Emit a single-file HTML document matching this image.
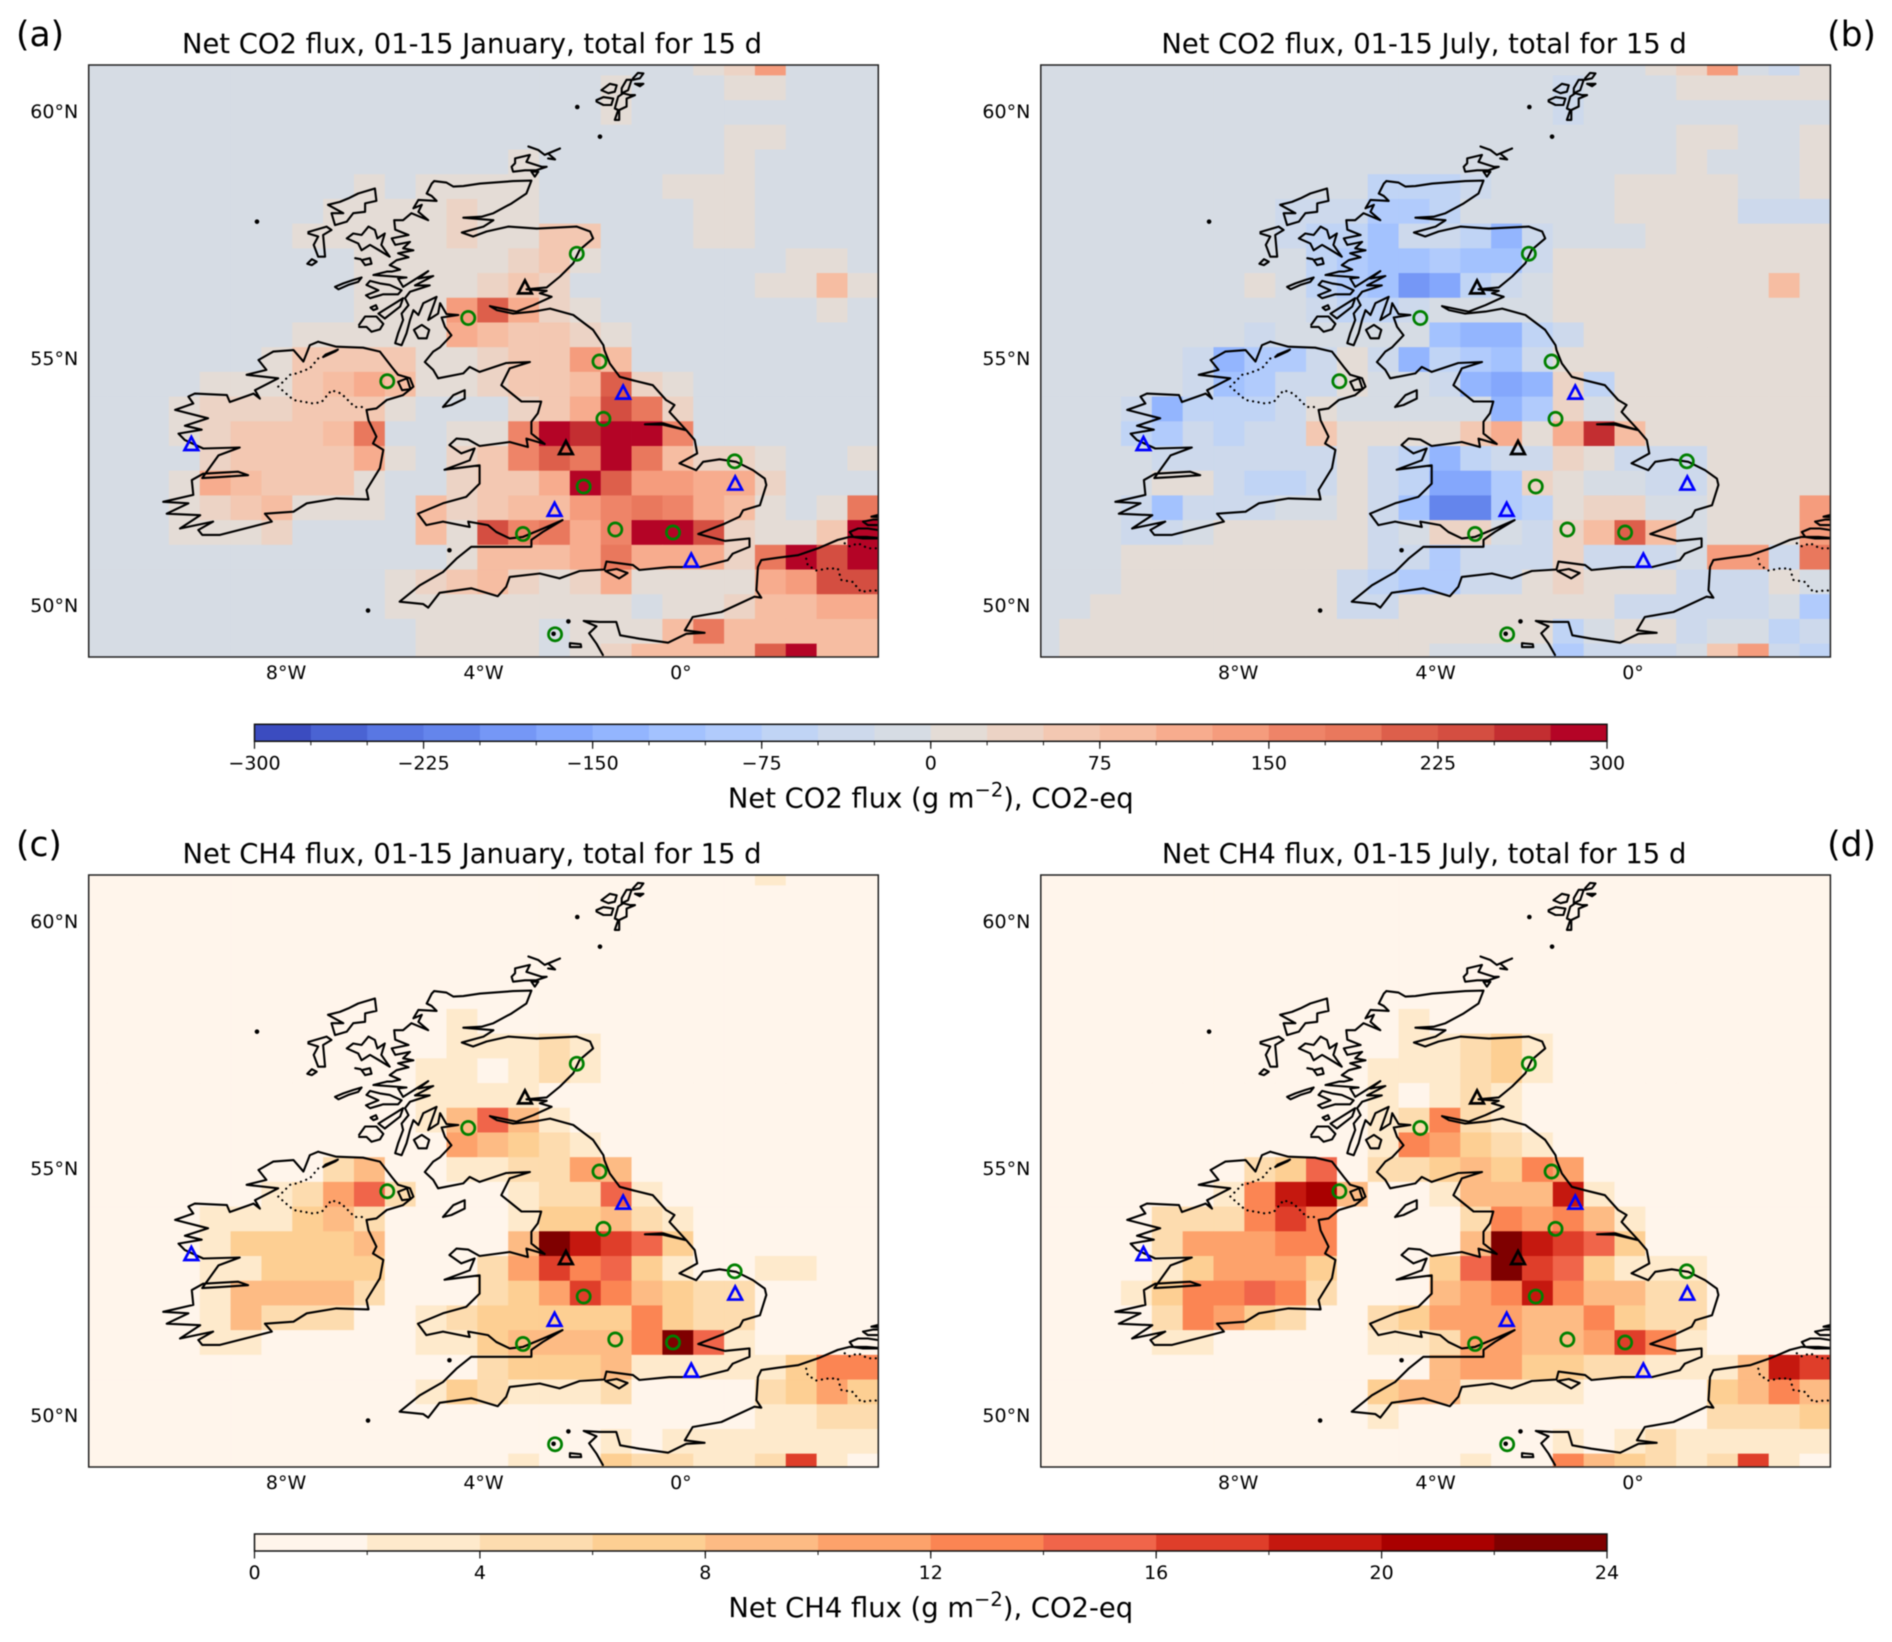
<!DOCTYPE html>
<html lang="en">
<head>
<meta charset="utf-8">
<title>Net CO2 and CH4 flux maps</title>
<style>
html,body{margin:0;padding:0;background:#fff}
svg{display:block;font-family:"DejaVu Sans","Liberation Sans",sans-serif;filter:blur(0.4px)}
</style>
</head>
<body>
<svg id="figure" xmlns="http://www.w3.org/2000/svg" width="1892" height="1642" viewBox="0 0 1892 1642"></svg>
<script>
// ---------- flux values (g m-2, CO2-eq), one row per 0.5 deg latitude, one column per 0.625 deg longitude ----------
const co2January = [
[-12,-12,-12,-12,-12,-12,-12,-12,-12,-12,-12,-12,-12,-12,-12,-12,-12,-12,-12,-12,12,37,137,-12,-12,-12],
[-12,-12,-12,-12,-12,-12,-12,-12,-12,-12,-12,-12,-12,-12,-12,-12,-12,12,-12,-12,-12,12,12,-12,-12,-12],
[-12,-12,-12,-12,-12,-12,-12,-12,-12,-12,-12,-12,-12,-12,-12,-12,-12,12,-12,-12,-12,-12,-12,-12,-12,-12],
[-12,-12,-12,-12,-12,-12,-12,-12,-12,-12,-12,-12,-12,-12,-12,-12,-12,-12,-12,-12,-12,12,12,-12,-12,-12],
[-12,-12,-12,-12,-12,-12,-12,-12,-12,-12,-12,-12,-12,-12,12,-12,-12,-12,-12,-12,-12,12,-12,-12,-12,-12],
[-12,-12,-12,-12,-12,-12,-12,-12,-12,12,-12,12,12,12,12,-12,-12,-12,-12,12,12,12,-12,-12,-12,-12],
[-12,-12,-12,-12,-12,-12,-12,-12,12,12,12,12,37,12,12,-12,-12,-12,-12,-12,12,12,-12,-12,-12,-12],
[-12,-12,-12,-12,-12,-12,-12,12,12,12,12,12,37,12,12,62,62,-12,-12,-12,12,12,-12,-12,-12,-12],
[-12,-12,-12,-12,-12,-12,-12,-12,-12,12,12,12,12,12,37,62,12,-12,-12,-12,-12,-12,-12,12,12,-12],
[-12,-12,-12,-12,-12,-12,-12,-12,-12,12,12,12,12,37,62,37,-12,-12,-12,-12,-12,-12,12,12,87,12],
[-12,-12,-12,-12,-12,-12,-12,-12,-12,12,12,12,137,212,112,37,12,-12,-12,-12,-12,-12,-12,-12,12,-12],
[-12,-12,-12,-12,-12,-12,-12,12,12,12,12,12,112,87,62,62,37,12,-12,-12,-12,-12,-12,-12,-12,-12],
[-12,-12,-12,-12,-12,-12,12,62,62,62,62,12,12,37,62,62,137,87,-12,-12,-12,-12,-12,-12,-12,-12],
[-12,-12,-12,-12,12,12,12,62,87,112,87,12,12,37,62,62,87,212,37,12,-12,-12,-12,-12,-12,-12],
[-12,-12,-12,12,37,37,37,62,62,62,12,-12,-12,-12,37,62,112,237,187,37,-12,-12,-12,-12,-12,-12],
[-12,-12,-12,12,37,62,62,62,87,187,-12,-12,12,12,162,287,262,287,287,162,-12,-12,-12,-12,-12,-12],
[-12,-12,-12,-12,37,62,62,62,62,112,12,-12,37,62,162,212,187,287,187,87,37,37,12,-12,-12,12],
[-12,-12,-12,12,112,87,62,62,62,12,-12,-12,37,62,62,112,287,212,137,137,112,112,37,-12,-12,-12],
[-12,-12,-12,12,37,62,87,12,12,12,-12,87,37,62,87,87,137,162,187,162,112,87,12,-12,12,187],
[-12,-12,-12,12,12,12,37,-12,-12,-12,-12,87,12,237,162,187,112,162,287,287,237,37,12,12,62,287],
[-12,-12,-12,-12,-12,-12,-12,-12,-12,-12,-12,-12,12,87,87,87,112,187,112,112,112,37,187,287,237,287],
[-12,-12,-12,-12,-12,-12,-12,-12,-12,-12,12,37,62,87,37,12,37,112,12,12,12,12,112,137,237,237],
[-12,-12,-12,-12,-12,-12,-12,-12,-12,-12,12,12,12,12,12,12,12,12,-12,12,12,37,87,87,112,112],
[-12,-12,-12,-12,-12,-12,-12,-12,-12,-12,-12,12,12,12,12,-12,12,12,12,87,187,87,87,87,87,87],
[-12,-12,-12,-12,-12,-12,-12,-12,-12,-12,-12,12,12,12,12,-12,12,37,87,87,87,87,212,287,87,87]
];
const co2July = [
[-12,-12,-12,-12,-12,-12,-12,-12,-12,-12,-12,-12,-12,-12,-12,-12,-12,-12,-12,-12,12,37,137,-12,-37,12],
[-12,-12,-12,-12,-12,-12,-12,-12,-12,-12,-12,-12,-12,-12,-12,-12,-12,-37,-12,-12,-12,12,12,12,12,12],
[-12,-12,-12,-12,-12,-12,-12,-12,-12,-12,-12,-12,-12,-12,-12,-12,-12,-37,-12,-12,-12,-12,-12,-12,-12,-12],
[-12,-12,-12,-12,-12,-12,-12,-12,-12,-12,-12,-12,-12,-12,-12,-12,-12,-12,-12,-12,-12,12,12,-12,-12,12],
[-12,-12,-12,-12,-12,-12,-12,-12,-12,-12,-12,-12,-12,-12,-12,-12,-12,-12,-12,-12,-12,12,-12,-12,-12,12],
[-12,-12,-12,-12,-12,-12,-12,-12,-12,-12,-12,-62,-62,-62,-37,-12,-12,-12,-12,12,12,12,12,-12,-12,12],
[-12,-12,-12,-12,-12,-12,-12,-12,-37,-37,-37,-87,-87,-62,-12,-12,-12,-12,-12,12,12,12,12,-37,-37,-37],
[-12,-12,-12,-12,-12,-12,-12,-12,-37,-62,-62,-112,-37,-37,-62,-137,-37,-12,-12,-12,12,12,12,12,12,12],
[-12,-12,-12,-12,-12,-12,-12,-12,-12,-62,-87,-112,-112,-87,-112,-112,-37,12,12,12,12,12,12,12,12,12],
[-12,-12,-12,-12,-12,-12,-12,12,-12,-62,-87,-112,-187,-162,-62,-37,-12,12,12,12,12,12,12,12,87,12],
[-12,-12,-12,-12,-12,-12,-12,-12,-12,-37,-62,-62,-37,-12,-12,-12,-12,12,12,12,12,12,12,12,12,12],
[-12,-12,-12,-12,-12,-12,-12,-37,-12,-12,-12,-12,-12,-112,-137,-137,-62,-37,12,12,12,12,12,12,12,12],
[-12,-12,-12,-12,-12,-37,-137,-87,-87,-37,12,-37,-137,-62,-87,-112,-37,12,12,12,12,12,12,12,12,12],
[-12,-12,-12,-12,-12,-37,-112,-87,-37,-37,12,-12,-12,-37,-137,-162,-137,37,-62,12,12,12,12,12,12,12],
[-12,-12,-12,-37,-137,-62,-62,-62,-37,12,-12,-12,-12,-12,-12,-137,-87,37,-12,12,12,12,12,12,12,12],
[-12,-12,-12,-62,-87,-37,-62,-37,-37,62,12,12,12,12,62,112,12,112,262,87,12,12,12,12,12,12],
[-12,-12,-12,-12,-37,-37,-37,-37,-37,-37,12,-37,-62,-137,-62,-37,-37,37,12,-37,-37,-37,12,12,12,12],
[-12,-12,-12,-12,12,12,-37,-62,-62,-37,12,-37,-62,-162,-162,-87,37,12,-12,-12,-37,-37,12,12,12,12],
[-12,-12,-12,-37,-112,-37,-37,-37,-12,-12,12,-37,-112,-212,-212,-87,-62,12,37,37,-12,-12,12,12,12,137],
[-12,-12,-12,-37,-37,-12,12,12,12,12,12,-37,-12,37,37,-12,-37,37,87,212,87,-12,12,12,12,137],
[-12,-12,-12,12,12,12,12,12,12,12,12,-37,-37,-87,-37,-37,-37,37,-37,-37,-37,-12,137,137,-37,187],
[-12,-12,-12,12,12,12,12,12,12,12,-37,-62,-87,-87,-37,-37,12,37,12,12,12,-37,-37,-37,12,-12],
[-12,-12,12,12,12,12,12,12,12,12,-37,-37,12,12,12,12,12,12,12,-37,-37,-37,-37,-37,-12,-87],
[-12,12,12,12,12,12,12,12,12,12,12,12,12,12,12,12,12,-62,-12,12,12,-37,-12,-12,-62,-37],
[-12,12,12,12,12,12,12,12,12,12,12,12,12,-12,-12,-12,-12,-87,-37,-37,-37,-12,62,137,-37,-62]
];
const ch4January = [
[1,1,1,1,1,1,1,1,1,1,1,1,1,1,1,1,1,1,1,1,1,1,3,1,1,1],
[1,1,1,1,1,1,1,1,1,1,1,1,1,1,1,1,1,1,1,1,1,1,1,1,1,1],
[1,1,1,1,1,1,1,1,1,1,1,1,1,1,1,1,1,1,1,1,1,1,1,1,1,1],
[1,1,1,1,1,1,1,1,1,1,1,1,1,1,1,1,1,1,1,1,1,1,1,1,1,1],
[1,1,1,1,1,1,1,1,1,1,1,1,1,1,1,1,1,1,1,1,1,1,1,1,1,1],
[1,1,1,1,1,1,1,1,1,1,1,1,1,1,1,1,1,1,1,1,1,1,1,1,1,1],
[1,1,1,1,1,1,1,1,1,1,1,1,3,1,1,1,1,1,1,1,1,1,1,1,1,1],
[1,1,1,1,1,1,1,1,1,1,1,1,3,3,3,5,3,1,1,1,1,1,1,1,1,1],
[1,1,1,1,1,1,1,1,1,1,1,3,3,1,3,5,3,1,1,1,1,1,1,1,1,1],
[1,1,1,1,1,1,1,1,1,1,1,3,3,3,3,1,1,1,1,1,1,1,1,1,1,1],
[1,1,1,1,1,1,1,1,1,1,1,3,9,15,9,3,1,1,1,1,1,1,1,1,1,1],
[1,1,1,1,1,1,1,1,1,1,1,1,11,9,7,5,3,1,1,1,1,1,1,1,1,1],
[1,1,1,1,1,1,1,1,5,9,1,1,3,3,5,5,11,9,1,1,1,1,1,1,1,1],
[1,1,1,1,1,1,3,5,11,15,5,1,1,1,3,5,5,15,3,1,1,1,1,1,1,1],
[1,1,1,1,3,3,3,7,9,5,1,1,1,1,3,7,7,9,5,3,1,1,1,1,1,1],
[1,1,1,1,3,7,7,7,7,9,1,1,1,1,9,23,19,17,15,7,1,1,1,1,1,1],
[1,1,1,1,3,3,7,7,7,7,1,1,1,5,11,17,13,15,7,3,1,1,3,3,1,1],
[1,1,1,1,3,9,9,9,9,5,1,1,1,5,7,11,17,13,9,7,5,5,1,1,1,1],
[1,1,1,1,3,9,5,5,5,1,1,3,5,7,7,7,7,7,13,7,5,5,1,1,1,1],
[1,1,1,1,3,3,1,1,1,1,1,3,3,7,9,9,9,9,13,23,15,3,1,1,1,1],
[1,1,1,1,1,1,1,1,1,1,1,1,1,5,7,7,7,9,3,3,3,3,3,7,13,13],
[1,1,1,1,1,1,1,1,1,1,1,3,7,5,3,3,3,5,1,1,1,1,5,7,11,7],
[1,1,1,1,1,1,1,1,1,1,1,1,1,1,1,1,1,1,1,1,1,1,3,3,5,5],
[1,1,1,1,1,1,1,1,1,1,1,1,1,1,1,1,1,3,1,3,3,3,3,3,3,3],
[1,1,1,1,1,1,1,1,1,1,1,1,1,1,3,1,1,7,5,5,3,3,5,17,3,1]
];
const ch4July = [
[1,1,1,1,1,1,1,1,1,1,1,1,1,1,1,1,1,1,1,1,1,1,1,1,1,1],
[1,1,1,1,1,1,1,1,1,1,1,1,1,1,1,1,1,1,1,1,1,1,1,1,1,1],
[1,1,1,1,1,1,1,1,1,1,1,1,1,1,1,1,1,1,1,1,1,1,1,1,1,1],
[1,1,1,1,1,1,1,1,1,1,1,1,1,1,1,1,1,1,1,1,1,1,1,1,1,1],
[1,1,1,1,1,1,1,1,1,1,1,1,1,1,1,1,1,1,1,1,1,1,1,1,1,1],
[1,1,1,1,1,1,1,1,1,1,1,1,1,1,1,1,1,1,1,1,1,1,1,1,1,1],
[1,1,1,1,1,1,1,1,1,1,1,1,3,1,1,1,1,1,1,1,1,1,1,1,1,1],
[1,1,1,1,1,1,1,1,1,1,1,1,3,3,5,7,3,1,1,1,1,1,1,1,1,1],
[1,1,1,1,1,1,1,1,1,1,1,3,3,3,5,7,3,1,1,1,1,1,1,1,1,1],
[1,1,1,1,1,1,1,1,1,1,1,3,1,3,5,3,1,1,1,1,1,1,1,1,1,1],
[1,1,1,1,1,1,1,1,1,1,1,3,5,13,5,3,1,1,1,1,1,1,1,1,1,1],
[1,1,1,1,1,1,1,1,1,1,1,3,13,11,7,5,3,1,1,1,1,1,1,1,1,1],
[1,1,1,1,1,1,1,5,7,15,1,5,5,7,9,7,13,11,1,1,1,1,1,1,1,1],
[1,1,1,1,1,1,3,13,19,21,9,1,1,3,9,9,9,19,3,1,1,1,1,1,1,1],
[1,1,1,1,5,5,5,13,17,13,1,1,1,1,5,13,11,13,9,3,1,1,1,1,1,1],
[1,1,1,1,5,11,11,11,13,13,1,1,1,1,9,23,19,17,15,7,1,1,1,1,1,1],
[1,1,1,1,3,7,11,11,11,7,1,1,1,7,15,23,17,15,7,3,3,3,1,1,1,1],
[1,1,1,3,7,13,13,15,13,5,1,1,1,9,11,13,19,13,9,9,5,5,1,1,1,1],
[1,1,1,1,5,13,11,7,5,1,1,5,7,11,11,11,9,9,13,7,5,5,1,1,1,1],
[1,1,1,1,3,3,1,1,1,1,1,3,3,5,11,11,9,9,11,17,13,3,1,1,1,1],
[1,1,1,1,1,1,1,1,1,1,1,1,1,9,11,11,7,7,5,5,3,3,3,9,19,17],
[1,1,1,1,1,1,1,1,1,1,1,7,9,9,3,3,3,3,1,1,1,1,7,9,13,9],
[1,1,1,1,1,1,1,1,1,1,1,3,1,1,1,1,1,1,1,1,1,1,5,5,5,7],
[1,1,1,1,1,1,1,1,1,1,1,1,1,1,1,1,1,3,1,3,5,3,3,3,3,3],
[1,1,1,1,1,1,1,1,1,1,1,1,1,1,3,1,1,13,9,7,5,3,5,17,3,1]
];

// ---------- observation sites [longitude, latitude] ----------
const circleSites = [[-2.11,57.14],[-4.31,55.84],[-1.65,54.96],[-5.95,54.56],[-1.57,53.80],[1.09,52.94],[-1.97,52.43],[-1.33,51.56],[-0.16,51.50],[-3.20,51.47],[-2.55,49.44]];
const blueTriangleSites = [[-1.17,54.33],[-9.92,53.29],[1.10,52.49],[-2.56,51.96],[0.21,50.93]];
const blackTriangleSites = [[-3.16,56.46],[-2.33,53.21]];

// ---------- axis and colour bar labels ----------
const lonTicks = [-8,-4,0];
const lonTickLabels = ["8°W","4°W","0°"];
const latTicks = [60,55,50];
const latTickLabels = ["60°N","55°N","50°N"];
const co2BarTicks = [-300,-225,-150,-75,0,75,150,225,300];
const co2BarTickLabels = ["−300","−225","−150","−75","0","75","150","225","300"];
const ch4BarTicks = [0,4,8,12,16,20,24];
const ch4BarTickLabels = ["0","4","8","12","16","20","24"];

// ---------- colour levels ----------
const coolwarmLevels = ["#3b4cc0","#4a63d3","#5977e3","#6485ec","#7597f6","#84a7fc","#93b5fe","#a3c2fe","#b1cbfc","#c0d4f5","#cdd9ec","#d6dce4","#e4dcd6","#ecd3c5","#f3c8b2","#f6bda2","#f7ac8e","#f59c7d","#ee8468","#e9785d","#dd5f4b","#d44e41","#c32e31","#b40426"];
const orRdLevels = ["#fff5eb","#feeacc","#fddcaf","#fdcf93","#fdbb84","#fda26b","#fb8553","#f0654a","#df3e2a","#c5180f","#a90000","#7f0000"];

// ---------- coastlines [longitude, latitude] ----------
const coastGreatBritain = [[-5.0,58.61],[-4.75,58.58],[-4.61,58.50],[-4.41,58.51],[-4.07,58.56],[-3.40,58.61],[-3.03,58.62],[-3.13,58.36],[-3.43,58.16],[-3.80,57.96],[-4.04,57.89],[-4.41,57.87],[-3.80,57.82],[-4.00,57.69],[-4.44,57.57],[-4.21,57.49],[-3.94,57.59],[-3.50,57.69],[-2.92,57.65],[-2.11,57.69],[-1.84,57.59],[-1.78,57.45],[-2.05,57.22],[-2.18,56.95],[-2.45,56.68],[-2.72,56.46],[-3.13,56.42],[-2.72,56.39],[-2.86,56.34],[-2.62,56.27],[-2.99,56.10],[-3.33,55.97],[-3.87,56.08],[-3.73,56.00],[-3.40,55.93],[-2.99,55.97],[-2.65,56.03],[-2.18,55.90],[-1.78,55.60],[-1.57,55.29],[-1.55,55.19],[-1.44,54.92],[-1.24,54.65],[-0.97,54.58],[-0.57,54.48],[-0.30,54.18],[-0.13,54.08],[-0.23,53.94],[0.11,53.57],[-0.36,53.71],[-0.73,53.69],[-0.36,53.68],[0.11,53.57],[0.28,53.37],[0.33,53.10],[-0.03,52.90],[0.31,52.76],[0.45,52.93],[0.785,52.98],[1.12,52.93],[1.46,52.76],[1.70,52.59],[1.73,52.46],[1.60,52.05],[1.26,51.95],[1.19,51.82],[0.89,51.68],[0.35,51.47],[0.89,51.33],[1.39,51.38],[1.39,51.21],[1.05,51.07],[0.95,50.94],[0.38,50.80],[-0.23,50.80],[-0.84,50.74],[-0.97,50.84],[-1.51,50.91],[-1.55,50.75],[-2.05,50.72],[-2.46,50.57],[-2.86,50.67],[-3.47,50.60],[-3.54,50.40],[-3.71,50.21],[-4.25,50.37],[-4.89,50.28],[-5.12,49.98],[-5.22,50.05],[-5.70,50.10],[-5.29,50.43],[-4.82,50.70],[-4.55,50.97],[-4.25,51.21],[-3.67,51.21],[-3.03,51.21],[-3.03,51.35],[-2.80,51.51],[-2.40,51.75],[-2.79,51.58],[-3.20,51.41],[-3.47,51.38],[-3.74,51.51],[-3.91,51.65],[-4.08,51.68],[-4.31,51.72],[-4.28,51.61],[-4.82,51.72],[-5.16,51.65],[-5.33,51.88],[-4.82,52.09],[-4.35,52.22],[-4.08,52.49],[-4.08,52.86],[-4.79,52.77],[-4.28,52.96],[-4.18,53.20],[-4.45,53.10],[-4.69,53.27],[-4.55,53.40],[-4.31,53.38],[-4.08,53.25],[-3.47,53.33],[-3.10,53.23],[-3.13,53.40],[-2.76,53.29],[-3.03,53.50],[-3.03,53.74],[-2.90,53.91],[-2.83,54.15],[-3.23,54.15],[-3.64,54.48],[-3.47,54.82],[-3.06,54.95],[-3.54,54.93],[-4.08,54.75],[-4.28,54.85],[-4.41,54.72],[-4.92,54.62],[-5.02,54.79],[-5.19,54.95],[-5.02,55.16],[-4.88,55.25],[-4.65,55.49],[-4.78,55.66],[-4.85,55.85],[-4.51,55.90],[-4.75,55.92],[-4.88,56.14],[-4.92,55.93],[-5.12,55.80],[-4.95,56.27],[-5.22,56.14],[-5.32,55.90],[-5.42,56.0],[-5.49,55.80],[-5.56,55.53],[-5.66,55.29],[-5.79,55.33],[-5.73,55.53],[-5.63,55.80],[-5.66,55.93],[-5.52,56.10],[-5.59,56.24],[-5.49,56.37],[-5.09,56.50],[-5.39,56.50],[-5.02,56.69],[-5.32,56.64],[-5.12,56.79],[-5.63,56.47],[-5.73,56.64],[-5.56,56.66],[-6.23,56.71],[-5.96,56.78],[-5.86,56.78],[-5.69,56.82],[-5.90,56.91],[-5.76,57.01],[-5.52,57.07],[-5.73,57.15],[-5.42,57.21],[-5.63,57.25],[-5.49,57.38],[-5.79,57.32],[-5.86,57.45],[-5.52,57.52],[-5.79,57.63],[-5.81,57.82],[-5.63,57.82],[-5.46,57.96],[-5.12,57.82],[-5.32,57.99],[-5.25,58.13],[-5.42,58.06],[-5.32,58.23],[-4.95,58.21],[-5.05,58.31],[-5.15,58.36],[-5.05,58.56],[-5.0,58.61]];
const coastIreland = [[-7.35,55.36],[-6.98,55.26],[-6.44,55.24],[-6.10,55.16],[-5.86,54.85],[-5.73,54.69],[-5.49,54.62],[-5.42,54.45],[-5.63,54.28],[-5.96,54.18],[-6.17,54.01],[-6.37,53.98],[-6.33,53.77],[-6.17,53.44],[-6.24,53.30],[-6.03,53.17],[-6.10,52.80],[-6.37,52.36],[-6.33,52.17],[-6.98,52.19],[-7.58,52.09],[-7.85,51.92],[-8.43,51.88],[-8.29,51.72],[-9.34,51.45],[-9.70,51.45],[-9.78,51.55],[-9.48,51.72],[-10.15,51.58],[-9.74,51.85],[-10.42,51.88],[-9.98,52.09],[-10.49,52.12],[-9.88,52.26],[-9.91,52.56],[-9.68,52.69],[-8.97,52.73],[-8.77,52.66],[-9.34,52.62],[-9.70,52.60],[-9.37,53.06],[-8.94,53.22],[-9.68,53.20],[-10.05,53.37],[-10.18,53.50],[-9.71,53.58],[-10.05,53.66],[-9.58,53.81],[-10.25,53.98],[-9.88,54.11],[-9.98,54.25],[-9.85,54.31],[-9.20,54.28],[-9.14,54.14],[-8.66,54.31],[-8.53,54.21],[-8.63,54.38],[-8.16,54.62],[-8.80,54.69],[-8.40,54.79],[-8.56,54.99],[-8.26,55.16],[-7.85,55.19],[-7.65,54.96],[-7.52,55.29],[-7.35,55.36]];
const coastIslands = [
[[-6.20,58.46],[-6.17,58.21],[-6.40,58.16],[-6.40,57.99],[-6.64,57.96],[-6.77,57.79],[-7.01,57.72],[-7.08,57.96],[-6.84,57.96],[-7.15,58.13],[-6.91,58.19],[-6.74,58.26],[-6.54,58.36],[-6.20,58.46]],
[[-7.55,57.58],[-7.18,57.69],[-7.08,57.62],[-7.25,57.52],[-7.21,57.08],[-7.35,57.08],[-7.44,57.32],[-7.35,57.49],[-7.55,57.55]],
[[-7.57,56.94],[-7.48,57.03],[-7.38,56.98],[-7.48,56.91],[-7.57,56.94]],
[[-6.77,57.45],[-6.64,57.55],[-6.47,57.52],[-6.33,57.69],[-6.20,57.62],[-6.15,57.45],[-6.0,57.55],[-6.07,57.32],[-5.90,57.08],[-6.13,57.22],[-6.30,57.32],[-6.47,57.21],[-6.54,57.35],[-6.77,57.45]],
[[-6.47,57.01],[-6.30,57.05],[-6.27,56.94],[-6.40,56.91],[-6.47,57.01]],
[[-6.6,57.05],[-6.49,57.03]],
[[-7.01,56.47],[-6.84,56.54],[-6.64,56.61],[-6.47,56.66],[-6.54,56.57],[-6.74,56.51],[-6.94,56.42],[-7.01,56.47]],
[[-6.37,56.51],[-6.30,56.59],[-6.10,56.54],[-5.90,56.51],[-5.66,56.40],[-5.73,56.32],[-6.03,56.32],[-6.30,56.24],[-6.38,56.30],[-6.13,56.40],[-6.37,56.51]],
[[-6.29,56.05],[-6.18,56.10],[-6.15,56.03],[-6.23,56.0],[-6.29,56.05]],
[[-6.52,55.70],[-6.40,55.87],[-6.27,55.87],[-6.17,55.87],[-6.03,55.72],[-6.10,55.61],[-6.27,55.56],[-6.37,55.66],[-6.52,55.66]],
[[-6.13,55.93],[-5.63,56.24],[-5.69,56.07],[-6.0,55.83],[-6.13,55.93]],
[[-5.41,55.60],[-5.25,55.70],[-5.10,55.60],[-5.15,55.43],[-5.32,55.43],[-5.41,55.60]],
[[-3.36,59.07],[-3.06,59.14],[-3.13,59.0],[-2.82,58.90],[-2.72,58.90],[-2.93,58.83],[-3.16,58.83],[-3.40,58.80],[-3.43,58.90],[-3.36,58.97],[-3.36,59.07]],
[[-3.03,58.80],[-2.89,58.80],[-2.96,58.70],[-3.03,58.80]],
[[-3.09,59.31],[-2.89,59.24],[-2.76,59.14],[-2.45,59.27],[-2.69,59.17],[-2.55,59.05],[-2.69,59.07]],
[[-1.34,59.85],[-1.27,60.05],[-1.34,60.08],[-1.27,60.32],[-1.17,60.39],[-1.03,60.35],[-0.93,60.35],[-1.10,60.28],[-1.10,60.12],[-1.25,60.05],[-1.25,59.85],[-1.34,59.85]],
[[-1.71,60.25],[-1.57,60.31],[-1.37,60.28],[-1.41,60.15],[-1.57,60.15],[-1.71,60.22],[-1.71,60.25]],
[[-1.61,60.45],[-1.44,60.58],[-1.30,60.55],[-1.34,60.42],[-1.47,60.39],[-1.61,60.45]],
[[-1.20,60.49],[-1.10,60.66],[-1.0,60.66],[-1.07,60.45],[-1.20,60.39],[-1.20,60.49]],
[[-0.97,60.69],[-0.87,60.80],[-0.76,60.79],[-0.83,60.69],[-0.97,60.66],[-0.97,60.69]],
[[-0.93,60.58],[-0.76,60.58],[-0.83,60.53],[-0.93,60.58]],
[[-4.82,54.04],[-4.61,54.28],[-4.38,54.38],[-4.38,54.21],[-4.65,54.08],[-4.82,54.04]],
[[-1.53,50.72],[-1.30,50.76],[-1.08,50.68],[-1.25,50.57],[-1.53,50.72]],
[[-5.73,54.55],[-5.55,54.62],[-5.48,54.40],[-5.65,54.38],[-5.73,54.55]],
[[-7.25,55.05],[-7.01,55.16],[-6.95,55.20],[-7.20,55.10],[-7.25,55.05]],
[[-2.25,49.26],[-2.03,49.24],[-2.02,49.18],[-2.25,49.18],[-2.25,49.26]],
[[3.42,51.51],[3.59,51.58],[3.79,51.58],[3.99,51.55],[4.10,51.50],[3.99,51.38],[3.69,51.38],[3.49,51.41],[3.42,51.51]],
[[3.69,51.72],[3.89,51.76],[4.10,51.76],[4.10,51.65],[3.79,51.65],[3.69,51.72]],
[[3.86,51.82],[4.10,51.88],[4.10,51.80],[3.86,51.82]]
];
const coastContinent = [[-1.58,49.02],[-1.71,49.25],[-1.86,49.46],[-1.71,49.60],[-1.97,49.71],[-1.65,49.69],[-1.31,49.69],[-1.23,49.42],[-0.84,49.35],[-0.26,49.27],[0.11,49.45],[0.48,49.47],[0.08,49.52],[0.24,49.79],[0.82,49.89],[1.49,50.20],[1.63,50.18],[1.53,50.33],[1.56,50.80],[1.63,50.94],[1.97,50.99],[2.37,51.04],[2.78,51.18],[3.18,51.35],[3.42,51.41],[3.76,51.41],[4.10,51.38]];
const tinyIslands = [[-2.10,60.11],[-1.64,59.51],[-8.59,57.79],[-6.34,49.92],[-4.69,51.14],[-2.58,49.45],[-2.28,49.70]];
const borderIreland = [[-7.35,55.02],[-7.52,54.82],[-7.79,54.72],[-7.92,54.69],[-8.16,54.45],[-7.85,54.18],[-7.45,54.11],[-7.28,54.14],[-7.08,54.38],[-6.88,54.31],[-6.61,54.04],[-6.37,54.04]];
const borderFrance = [[2.54,50.97],[2.57,50.84],[2.74,50.73],[2.98,50.77],[3.18,50.77],[3.25,50.54],[3.48,50.50],[3.65,50.30],[3.92,50.33],[4.10,50.30]];
const borderNetherlands = [[3.32,51.28],[3.42,51.22],[3.59,51.28],[3.79,51.18],[3.99,51.18],[4.10,51.20]];

// ---------- layout ----------
const frame = {width:789.6, height:592, lonMin:-12, lonMax:4, latTop:60.96, latBottom:48.98};
const grid = {lonFirst:-12.25, lonStep:0.625, latFirst:61.25, latStep:0.5};
const svg = document.getElementById('figure');
const NS = 'http://www.w3.org/2000/svg';

function make(tag, parent, props, text) {
  const el = document.createElementNS(NS, tag);
  for (const k in props) el.setAttribute(k, props[k]);
  if (text !== undefined) el.textContent = text;
  parent.appendChild(el);
  return el;
}

function levelColor(value, min, max, colors) {
  const i = Math.floor((value - min) / (max - min) * colors.length);
  return colors[Math.max(0, Math.min(colors.length - 1, i))];
}

function drawPanel(cfg, id) {
  const xOf = lon => cfg.left + (lon - frame.lonMin) / (frame.lonMax - frame.lonMin) * frame.width;
  const yOf = lat => cfg.top + (frame.latTop - lat) / (frame.latTop - frame.latBottom) * frame.height;
  const line = pts => pts.map((p, i) => (i ? 'L' : 'M') + xOf(p[0]).toFixed(1) + ' ' + yOf(p[1]).toFixed(1)).join('');

  const panel = make('g', svg, {});
  
  

  const clip = make('clipPath', panel, {id: 'clip-' + id});
  make('rect', clip, {x: cfg.left, y: cfg.top, width: frame.width, height: frame.height});

  const plot = make('g', panel, {'clip-path': 'url(#clip-' + id + ')'});
  
  

  cfg.values.forEach((row, r) => {
    row.forEach((value, c) => {
      const lon0 = grid.lonFirst + c * grid.lonStep;
      const lat0 = grid.latFirst - r * grid.latStep;
      const x0 = xOf(lon0), x1 = xOf(lon0 + grid.lonStep);
      const y0 = yOf(lat0), y1 = yOf(lat0 - grid.latStep);
      const cell = make('rect', plot, {x: x0.toFixed(2), y: y0.toFixed(2), width: (x1 - x0 + 0.4).toFixed(2), height: (y1 - y0 + 0.4).toFixed(2), fill: levelColor(value, cfg.min, cfg.max, cfg.colors)});
      
      
    });
  });

  const coastStyle = {fill: 'none', stroke: '#000', 'stroke-width': 2.1, 'stroke-linejoin': 'round', 'stroke-linecap': 'round'};
  [coastGreatBritain, coastIreland, coastContinent].concat(coastIslands).forEach(pts => {
    const p = make('path', plot, Object.assign({d: line(pts)}, coastStyle));
    
    
  });
  tinyIslands.forEach(pt => {
    const dot = make('circle', plot, {cx: xOf(pt[0]), cy: yOf(pt[1]), r: 2.3, fill: '#000'});
    
    
  });
  [borderIreland, borderFrance, borderNetherlands].forEach(pts => {
    const b = make('path', plot, {d: line(pts), fill: 'none', stroke: '#000', 'stroke-width': 2.2, 'stroke-dasharray': '0.1 5.5', 'stroke-linecap': 'round'});
    
    
  });

  circleSites.forEach(s => {
    const m = make('circle', plot, {cx: xOf(s[0]), cy: yOf(s[1]), r: 6.6, fill: 'none', stroke: '#008000', 'stroke-width': 2.7});
    
    
  });
  const triangle = (s, color, label) => {
    const x = xOf(s[0]), y = yOf(s[1]);
    const m = make('path', plot, {d: 'M' + (x - 6.8) + ' ' + (y + 6) + 'L' + x + ' ' + (y - 7) + 'L' + (x + 6.8) + ' ' + (y + 6) + 'Z', fill: 'none', stroke: color, 'stroke-width': 2.7, 'stroke-linejoin': 'miter'});
    
    
  };
  blueTriangleSites.forEach(s => triangle(s, '#0000ff', 'blue-triangle-site'));
  blackTriangleSites.forEach(s => triangle(s, '#000000', 'black-triangle-site'));

  const border = make('rect', panel, {x: cfg.left, y: cfg.top, width: frame.width, height: frame.height, fill: 'none', stroke: '#222', 'stroke-width': 1.5});
  
  

  const title = make('text', panel, {x: cfg.left + frame.width / 2 - 11.5, y: cfg.top - 12, 'text-anchor': 'middle', 'font-size': 27.4, fill: '#000'}, cfg.title);
  
  

  lonTicks.forEach((lon, i) => {
    const t = make('text', panel, {x: xOf(lon), y: cfg.top + frame.height + 22, 'text-anchor': 'middle', 'font-size': 19, fill: '#000'}, lonTickLabels[i]);
    
    
  });
  latTicks.forEach((lat, i) => {
    const t = make('text', panel, {x: cfg.left - 10.5, y: yOf(lat) + 5.5, 'text-anchor': 'end', 'font-size': 19, fill: '#000'}, latTickLabels[i]);
    
    
  });

  const tag = make('text', svg, {x: cfg.tagX, y: cfg.top - 19, 'text-anchor': cfg.tagAnchor, 'font-size': 34.5, fill: '#000'}, cfg.tag);
  
  
}

function drawColorbar(cfg) {
  const bar = {left: 254.5, right: 1607, height: 17};
  const xOf = v => bar.left + (v - cfg.min) / (cfg.max - cfg.min) * (bar.right - bar.left);
  const g = make('g', svg, {});
  
  
  const step = (cfg.max - cfg.min) / cfg.colors.length;
  cfg.colors.forEach((color, i) => {
    const x0 = xOf(cfg.min + i * step), x1 = xOf(cfg.min + (i + 1) * step);
    const seg = make('rect', g, {x: x0.toFixed(2), y: cfg.top, width: (x1 - x0 + 0.4).toFixed(2), height: bar.height, fill: color});
    
    
  });
  const outline = make('rect', g, {x: bar.left, y: cfg.top, width: bar.right - bar.left, height: bar.height, fill: 'none', stroke: '#111', 'stroke-width': 1.5});
  
  
  for (let i = 0; i <= cfg.colors.length; i++) {
    const tick = make('line', g, {x1: xOf(cfg.min + i * step), x2: xOf(cfg.min + i * step), y1: cfg.top + bar.height, y2: cfg.top + bar.height + 4, stroke: '#111', 'stroke-width': 1});
    
    
  }
  cfg.ticks.forEach((v, i) => {
    const tick = make('line', g, {x1: xOf(v), x2: xOf(v), y1: cfg.top + bar.height, y2: cfg.top + bar.height + 7.5, stroke: '#111', 'stroke-width': 1.2});
    
    
    const t = make('text', g, {x: xOf(v), y: cfg.top + bar.height + 28, 'text-anchor': 'middle', 'font-size': 19, fill: '#000'}, cfg.tickLabels[i]);
    
    
  });
  const label = make('text', g, {x: (bar.left + bar.right) / 2, y: cfg.top + 83, 'text-anchor': 'middle', 'font-size': 27.4, fill: '#000'});
  
  
  make('tspan', label, {}, cfg.labelStart);
  make('tspan', label, {dy: -11, 'font-size': 19.5}, '−2');
  make('tspan', label, {dy: 11}, '), CO2-eq');
}

drawPanel({name:'co2-january', title:'Net CO2 flux, 01-15 January, total for 15 d', tag:'(a)', tagX:16, tagAnchor:'start', left:88.7, top:65, values:co2January, min:-300, max:300, colors:coolwarmLevels}, 'a');
drawPanel({name:'co2-july', title:'Net CO2 flux, 01-15 July, total for 15 d', tag:'(b)', tagX:1876, tagAnchor:'end', left:1040.8, top:65, values:co2July, min:-300, max:300, colors:coolwarmLevels}, 'b');
drawPanel({name:'ch4-january', title:'Net CH4 flux, 01-15 January, total for 15 d', tag:'(c)', tagX:16, tagAnchor:'start', left:88.7, top:875, values:ch4January, min:0, max:24, colors:orRdLevels}, 'c');
drawPanel({name:'ch4-july', title:'Net CH4 flux, 01-15 July, total for 15 d', tag:'(d)', tagX:1876, tagAnchor:'end', left:1040.8, top:875, values:ch4July, min:0, max:24, colors:orRdLevels}, 'd');

drawColorbar({name:'co2-colorbar', top:724.3, min:-300, max:300, colors:coolwarmLevels, ticks:co2BarTicks, tickLabels:co2BarTickLabels, labelStart:'Net CO2 flux (g m'});
drawColorbar({name:'ch4-colorbar', top:1534, min:0, max:24, colors:orRdLevels, ticks:ch4BarTicks, tickLabels:ch4BarTickLabels, labelStart:'Net CH4 flux (g m'});
</script>
</body>
</html>
